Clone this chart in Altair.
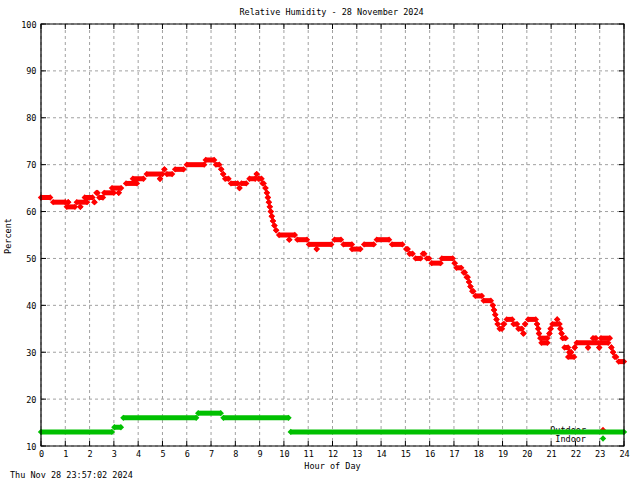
import altair as alt
import pandas as pd

# ---------------- data ----------------
hour_ticks = list(range(0, 25))
percent_ticks = list(range(10, 101, 10))

# Outdoor relative humidity: runs of constant reading (start hour, end hour, %RH)
outdoor_start = [0.00, 0.50, 1.06, 1.12, 1.47, 1.62, 1.80, 2.20, 2.28, 2.40, 2.60, 2.92, 3.20, 3.50, 3.78,
                 4.35, 4.90, 5.08, 5.18, 5.52,
                 6.00, 6.78, 7.20, 7.42, 7.50, 7.58, 7.82, 8.17, 8.25, 8.58, 8.88, 8.95, 9.12, 9.24,
                 9.30, 9.34, 9.38, 9.42, 9.46, 9.50, 9.55, 9.61, 9.68, 9.80, 10.22, 10.55, 11.03, 11.35,
                 12.08, 12.45, 12.80, 13.30, 13.82, 14.45, 15.03, 15.17, 15.42, 15.72, 15.88, 16.08, 16.50,
                 17.03, 17.10, 17.40, 17.52, 17.62, 17.68, 17.75, 17.88, 18.22, 18.60, 18.65, 18.70, 18.75,
                 18.80, 18.88, 19.03, 19.17, 19.45, 19.65, 19.85, 19.93, 20.05, 20.42, 20.47, 20.50, 20.55,
                 20.60, 20.93, 20.98, 21.05, 21.25, 21.38, 21.43, 21.47, 21.55, 21.70, 21.75, 21.82, 21.97,
                 22.05, 22.52, 22.72, 22.98, 23.05, 23.48, 23.55, 23.62, 23.78]
outdoor_end = [0.38, 1.00, 1.40, 1.12, 1.90, 1.62, 2.12, 2.20, 2.33, 2.55, 3.00, 3.30, 3.20, 3.95, 4.22,
               5.00, 4.90, 5.08, 5.40, 5.87,
               6.72, 7.13, 7.34, 7.42, 7.50, 7.72, 8.10, 8.17, 8.45, 8.82, 8.88, 9.08, 9.17, 9.24,
               9.30, 9.34, 9.38, 9.42, 9.46, 9.50, 9.55, 9.61, 9.68, 10.45, 10.22, 10.95, 11.95, 11.35,
               12.35, 12.80, 13.15, 13.70, 14.33, 14.88, 15.10, 15.30, 15.63, 15.78, 15.98, 16.45, 16.95,
               17.03, 17.30, 17.45, 17.57, 17.62, 17.68, 17.80, 18.15, 18.52, 18.60, 18.65, 18.70, 18.75,
               18.80, 18.98, 19.07, 19.40, 19.60, 19.80, 19.87, 19.93, 20.37, 20.42, 20.47, 20.50, 20.85,
               20.85, 20.93, 20.98, 21.35, 21.25, 21.38, 21.43, 21.60, 21.70, 21.95, 21.75, 21.82, 21.97,
               23.35, 22.52, 22.85, 22.98, 23.42, 23.48, 23.55, 23.68, 24.00]
outdoor_rh = [63, 62, 61, 62, 62, 61, 63, 62, 64, 63, 64, 65, 64, 66, 67,
              68, 67, 69, 68, 69,
              70, 71, 70, 69, 68, 67, 66, 65, 66, 67, 68, 67, 66, 65,
              64, 63, 62, 61, 60, 59, 58, 57, 56, 55, 54, 54, 53, 52,
              54, 53, 52, 53, 54, 53, 52, 51, 50, 51, 50, 49, 50,
              49, 48, 47, 46, 45, 44, 43, 42, 41, 40, 39, 38, 37,
              36, 35, 36, 37, 36, 35, 34, 36, 37, 36, 35, 34, 33,
              32, 34, 35, 36, 37, 35, 34, 33, 31, 29, 30, 30, 31,
              32, 31, 33, 31, 33, 31, 30, 29, 28]

# Indoor relative humidity runs
indoor_start = [0.00, 3.02, 3.39, 6.47, 7.51, 10.28]
indoor_end = [2.92, 3.29, 6.39, 7.40, 10.19, 24.00]
indoor_rh = [13, 14, 16, 17, 16, 13]

title_text = ["Relative Humidity - 28 November 2024"]
x_title_text = ["Hour of Day"]
y_title_text = ["Percent"]
stamp_text = ["Thu Nov 28 23:57:02 2024"]
legend_outdoor = ["Outdoor"]
legend_indoor = ["Indoor"]

# ---------------- styling ----------------
W, H = 583, 422
FONT = "DejaVu Sans Mono"
FS = 8.5
RED = "#ff0000"
GREEN = "#00c000"
GRID = "#a0a0a0"
PT = 40

xs = alt.Scale(domain=[0, 24], nice=False, zero=False)
ys = alt.Scale(domain=[10, 100], nice=False, zero=False)
x_axis = alt.Axis(values=hour_ticks, format="d", title=None, labelPadding=3,
                  labelFlush=False, labelOverlap=False)
y_axis = alt.Axis(values=percent_ticks, format="d", title=None, labelPadding=5,
                  labelOverlap=False)

hours_df = pd.DataFrame({"h": hour_ticks})
pct_df = pd.DataFrame({"p": percent_ticks})

vgrid = alt.Chart(hours_df).mark_rule(color=GRID, strokeWidth=1, strokeDash=[3, 3]).encode(
    x=alt.X("h:Q", scale=xs, axis=x_axis), y=alt.value(0), y2=alt.value(H))
hgrid = alt.Chart(pct_df).mark_rule(color=GRID, strokeWidth=1, strokeDash=[3, 3]).encode(
    y=alt.Y("p:Q", scale=ys, axis=y_axis), x=alt.value(0), x2=alt.value(W))


def series(start, end, rh, color):
    runs = pd.DataFrame({"start": start, "end": end, "rh": rh})
    pts = pd.DataFrame({"hour": list(start) + list(end), "rh": list(rh) * 2})
    band = alt.Chart(runs).mark_rule(color=color, strokeWidth=5, strokeCap="butt").encode(
        x=alt.X("start:Q", scale=xs, axis=x_axis), x2="end:Q",
        y=alt.Y("rh:Q", scale=ys, axis=y_axis))
    caps = alt.Chart(pts).mark_point(shape="diamond", filled=True, size=PT, color=color,
                                     opacity=1, strokeWidth=0).encode(
        x=alt.X("hour:Q", scale=xs, axis=x_axis), y=alt.Y("rh:Q", scale=ys, axis=y_axis))
    return band, caps


out_band, out_caps = series(outdoor_start, outdoor_end, outdoor_rh, RED)
in_band, in_caps = series(indoor_start, indoor_end, indoor_rh, GREEN)


def label(texts, x, y, align="center", angle=0):
    return alt.Chart(pd.DataFrame({"t": texts})).mark_text(
        font=FONT, fontSize=FS, color="black", align=align, baseline="middle", angle=angle
    ).encode(text="t:N", x=alt.value(x), y=alt.value(y))


def key_marker(color, y):
    return alt.Chart(pd.DataFrame({"k": [0]})).mark_point(
        shape="diamond", filled=True, size=PT, color=color, opacity=1, strokeWidth=0
    ).encode(x=alt.value(562), y=alt.value(y))


title = label(title_text, W / 2 - 1, -12)
xtitle = label(x_title_text, W / 2, H + 20)
ytitle = label(y_title_text, -33, 212, angle=270)
stamp = label(stamp_text, -31, H + 29, align="left")
key_out = label(legend_outdoor, 545, 406, align="right")
key_in = label(legend_indoor, 545, 414.5, align="right")

tick_len = 5
xt_bottom = alt.Chart(hours_df).mark_rule(color="black").encode(
    x=alt.X("h:Q", scale=xs, axis=x_axis), y=alt.value(H - tick_len), y2=alt.value(H))
xt_top = alt.Chart(hours_df).mark_rule(color="black").encode(
    x=alt.X("h:Q", scale=xs, axis=x_axis), y=alt.value(0), y2=alt.value(tick_len))
yt_left = alt.Chart(pct_df).mark_rule(color="black").encode(
    y=alt.Y("p:Q", scale=ys, axis=y_axis), x=alt.value(0), x2=alt.value(tick_len))
yt_right = alt.Chart(pct_df).mark_rule(color="black").encode(
    y=alt.Y("p:Q", scale=ys, axis=y_axis), x=alt.value(W - tick_len), x2=alt.value(W))
border = alt.Chart(pd.DataFrame({"b": [0]})).mark_rect(
    fill=None, stroke="black", strokeWidth=1.2, filled=False).encode(
    x=alt.value(0), x2=alt.value(W), y=alt.value(0), y2=alt.value(H))

chart = alt.layer(
    vgrid, hgrid,
    key_out, key_marker(RED, 406), out_band, out_caps,
    key_in, key_marker(GREEN, 414.5), in_band, in_caps,
    xt_bottom, xt_top, yt_left, yt_right, border,
    title, xtitle, ytitle, stamp,
).properties(
    width=W, height=H,
    autosize=alt.AutoSizeParams(type="none"),
    padding={"left": 41, "top": 24, "right": 16, "bottom": 34},
    background="white",
).configure_axis(
    labelFont=FONT, labelFontSize=FS, labelColor="black",
    grid=False, ticks=False, domain=False,
).configure_view(stroke=None)

chart.save("out.html", embed_options={"renderer": "svg", "actions": False})
